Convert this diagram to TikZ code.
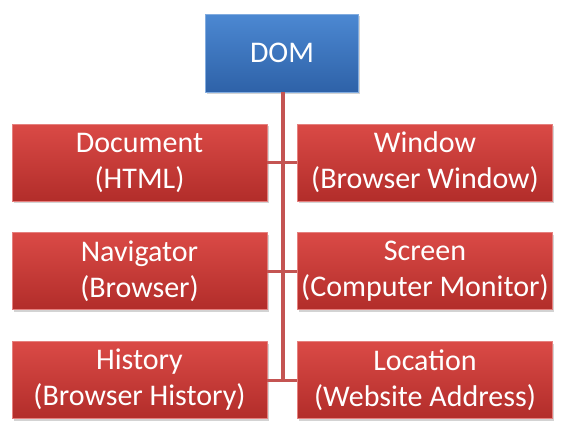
\documentclass[tikz,border=0pt]{standalone}
\usepackage{fontspec}
\setmainfont{Carlito}
\usetikzlibrary{shadows}
\definecolor{boxredtop}{RGB}{218,74,70}
\definecolor{boxredbot}{RGB}{178,45,42}
\definecolor{boxbluetop}{RGB}{76,136,210}
\definecolor{boxbluebot}{RGB}{46,98,168}
\definecolor{linkred}{RGB}{196,84,82}
\tikzset{
  objbox/.style={rectangle,draw=boxredtop!70!white,line width=0.5pt,top color=boxredtop,bottom color=boxredbot,
    minimum width=255pt,minimum height=77pt,align=center,text=white,inner sep=0pt,
    drop shadow={shadow xshift=1.5pt,shadow yshift=-2pt,opacity=0.35},
    font=\fontsize{30}{36}\selectfont},
  rootbox/.style={objbox,draw=boxbluetop!70!white,top color=boxbluetop,bottom color=boxbluebot,minimum width=153pt,minimum height=78pt},
  link/.style={linkred,line width=3pt}
}
\begin{document}
\begin{tikzpicture}[x=1pt,y=-1pt,line join=round]
  \useasboundingbox (0,0) rectangle (565,432);
  \coordinate (spine) at (283,53);
  \coordinate (spineend) at (283,380);
  \node[rootbox] (dom) at (282,53) {DOM};
  \node[objbox] (doc) at (139.5,162.5) {Document\\(HTML)};
  \node[objbox] (win) at (425,162.5) {Window\\(Browser Window)};
  \node[objbox] (nav) at (139.5,271) {Navigator\\(Browser)};
  \node[objbox] (scr) at (425,271) {Screen\\(Computer Monitor)};
  \node[objbox] (his) at (139.5,380) {History\\(Browser History)};
  \node[objbox] (loc) at (425,380) {Location\\(Website Address)};
  % spine and cross links
  \draw[link,line width=4pt] (dom.south -| spine) -- (spineend);
  \draw[link] (doc.east) -- (win.west);
  \draw[link] (nav.east) -- (scr.west);
  \draw[link] (his.east) -- (loc.west);
\end{tikzpicture}
\end{document}
